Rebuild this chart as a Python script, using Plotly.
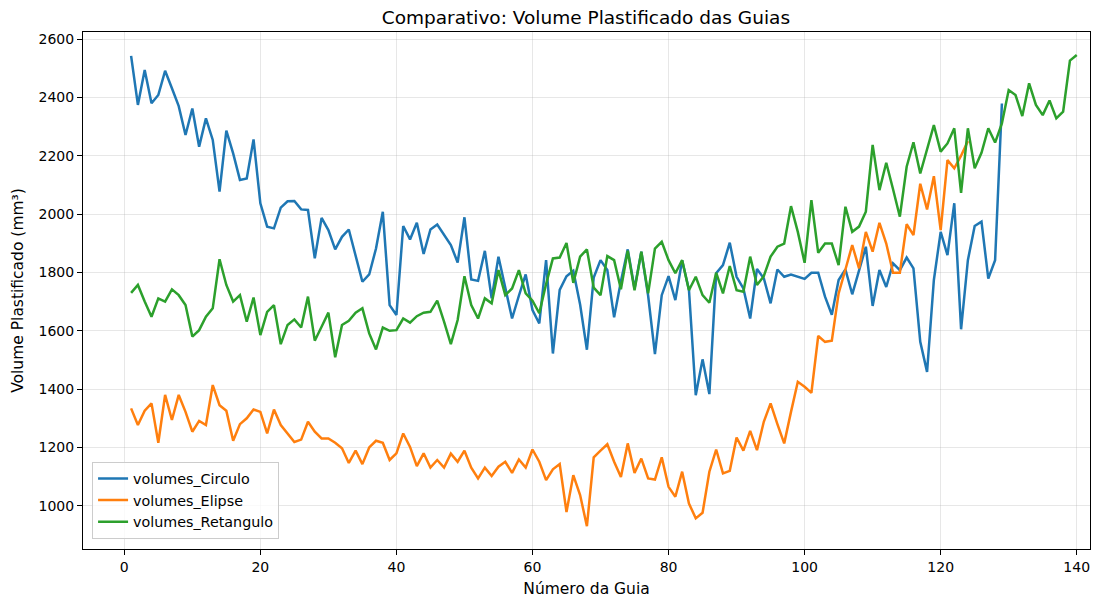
import plotly.graph_objects as go

circulo = [2542, 2374, 2494, 2380, 2408, 2491, 2431, 2370, 2271, 2362,
           2231, 2328, 2254, 2077, 2286, 2208, 2117, 2122, 2256, 2037,
           1957, 1951, 2022, 2044, 2045, 2016, 2014, 1848, 1987, 1945,
           1879, 1922, 1947, 1854, 1768, 1793, 1882, 2008, 1688, 1654,
           1959, 1913, 1970, 1863, 1947, 1964, 1928, 1894, 1834, 1989,
           1776, 1771, 1874, 1711, 1854, 1745, 1642, 1720, 1793, 1671,
           1625, 1842, 1522, 1740, 1787, 1806, 1690, 1535, 1782, 1842,
           1808, 1646, 1770, 1879, 1745, 1871, 1720, 1520, 1722, 1787,
           1705, 1842, 1740, 1379, 1502, 1383, 1797, 1825, 1902, 1785,
           1745, 1642, 1812, 1780, 1694, 1810, 1785, 1793, 1785, 1778,
           1799, 1799, 1717, 1655, 1774, 1810, 1725, 1808, 1888, 1685,
           1808, 1750, 1831, 1808, 1851, 1814, 1562, 1459, 1774, 1939,
           1859, 2037, 1605, 1842, 1959, 1974, 1779, 1842, 2379]

elipse = [1334, 1277, 1326, 1351, 1216, 1380, 1294, 1380, 1322, 1254,
          1291, 1277, 1414, 1345, 1326, 1223, 1280, 1300, 1330, 1322,
          1248, 1330, 1277, 1246, 1219, 1227, 1288, 1254, 1231, 1231,
          1216, 1197, 1147, 1189, 1143, 1200, 1223, 1216, 1157, 1180,
          1248, 1202, 1136, 1180, 1131, 1157, 1131, 1179, 1151, 1189,
          1131, 1094, 1131, 1102, 1134, 1151, 1113, 1159, 1131, 1193,
          1151, 1088, 1125, 1143, 979, 1105, 1037, 930, 1166, 1189,
          1211, 1151, 1099, 1214, 1113, 1162, 1094, 1090, 1166, 1065,
          1031, 1117, 1008, 957, 976, 1117, 1193, 1111, 1120, 1234,
          1189, 1257, 1191, 1288, 1351, 1280, 1214, 1322, 1425, 1408,
          1387, 1582, 1562, 1566, 1728, 1810, 1894, 1814, 1939, 1871,
          1970, 1899, 1799, 1799, 1965, 1928, 2104, 2016, 2130, 1945,
          2185, 2157, 2200, 2250]

retangulo = [1730, 1757, 1700, 1648, 1711, 1700, 1742, 1722, 1688, 1580,
             1602, 1648, 1677, 1845, 1757, 1700, 1722, 1631, 1714, 1585,
             1665, 1688, 1554, 1620, 1639, 1611, 1717, 1566, 1614, 1662,
             1509, 1620, 1634, 1662, 1677, 1591, 1536, 1611, 1600, 1602,
             1642, 1628, 1650, 1662, 1665, 1703, 1631, 1554, 1637, 1787,
             1688, 1642, 1711, 1694, 1808, 1722, 1745, 1808, 1728, 1703,
             1660, 1760, 1848, 1851, 1901, 1764, 1854, 1879, 1748, 1722,
             1856, 1842, 1742, 1874, 1739, 1871, 1728, 1882, 1905, 1842,
             1797, 1842, 1739, 1785, 1722, 1696, 1799, 1728, 1822, 1739,
             1734, 1854, 1757, 1787, 1854, 1888, 1899, 2027, 1939, 1833,
             2048, 1867, 1899, 1899, 1825, 2025, 1939, 1957, 2008, 2237,
             2082, 2176, 2085, 1991, 2162, 2246, 2139, 2220, 2305, 2214,
             2242, 2294, 2073, 2294, 2157, 2210, 2294, 2245, 2311, 2425,
             2408, 2336, 2448, 2374, 2339, 2389, 2328, 2351, 2526, 2545]

series = [("volumes_Circulo", circulo, "#1f77b4"),
          ("volumes_Elipse", elipse, "#ff7f0e"),
          ("volumes_Retangulo", retangulo, "#2ca02c")]

x_ticks = [0, 20, 40, 60, 80, 100, 120, 140]
y_ticks = [1000, 1200, 1400, 1600, 1800, 2000, 2200, 2400, 2600]

fig = go.Figure()
for name, vals, color in series:
    fig.add_trace(go.Scatter(
        x=list(range(1, len(vals) + 1)), y=vals, mode="lines", name=name,
        line=dict(color=color, width=2.5)))

font = "DejaVu Sans"
axis_common = dict(
    showline=True, linecolor="black", linewidth=1, mirror=True,
    ticks="outside", ticklen=5, tickwidth=1, tickcolor="black",
    showgrid=True, gridcolor="rgba(176,176,176,0.3)", gridwidth=1,
    zeroline=False, automargin=False,
    tickfont=dict(family=font, size=14, color="black"),
)

fig.update_layout(
    width=1119, height=600,
    margin=dict(l=83, r=29, t=32, b=51),
    paper_bgcolor="white", plot_bgcolor="white",
    title=dict(text="Comparativo: Volume Plastificado das Guias",
               x=0.5236, xanchor="center", y=0.971, yanchor="middle",
               font=dict(family=font, size=18.5, color="black")),
    xaxis=dict(range=[-6.07, 141.95], tickvals=x_ticks,
               title=dict(text="Número da Guia", standoff=9,
                          font=dict(family=font, size=15.5, color="black")),
               **axis_common),
    yaxis=dict(range=[852, 2624], tickvals=y_ticks,
               title=dict(text="Volume Plastificado (mm³)", standoff=11,
                          font=dict(family=font, size=15.5, color="black")),
               **axis_common),
    legend=dict(x=0.009, y=0.02, xanchor="left", yanchor="bottom",
                bgcolor="rgba(255,255,255,0.8)", bordercolor="#cccccc",
                borderwidth=1, font=dict(family=font, size=14.3, color="black"),
                tracegroupgap=2),
    showlegend=True,
)

fig.write_html("out.html")
